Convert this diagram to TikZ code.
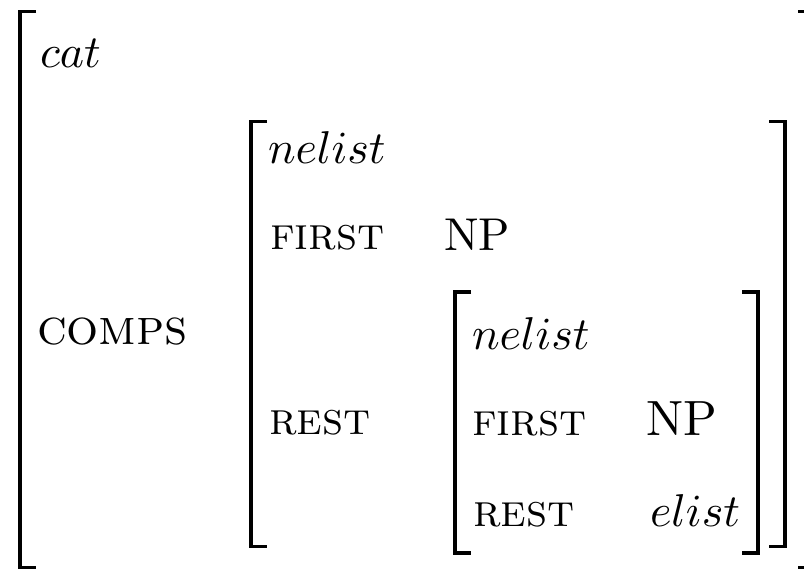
\documentclass[tikz,border=0pt]{standalone}
\usepackage{graphicx}
\newcommand{\avmtxt}[2][4.6]{\scalebox{#1}{#2}}
\begin{document}
\begin{tikzpicture}[x=1pt,y=-1pt,
  lbl/.style={anchor=base west,inner sep=0pt,outer sep=0pt,font=\normalsize},
  brk/.style={line width=3.6pt,line join=miter,line cap=butt}]
\useasboundingbox (0,0) rectangle (804,569);
% outer level
\node[lbl] (cat) at (40,68) {\avmtxt{$cat$}};
\node[lbl] (comps) at (37,345) {\avmtxt[5.05]{\textsc{comps}}};
% middle level
\node[lbl] (nel1) at (268,164) {\avmtxt{$nelist$}};
\node[lbl] (first1) at (270,250) {\avmtxt{\textsc{first}}};
\node[lbl] (np1) at (444,251) {\avmtxt{NP}};
\node[lbl] (rest1) at (269,435) {\avmtxt{\textsc{rest}}};
% inner level
\node[lbl] (nel2) at (472,350) {\avmtxt{$nelist$}};
\node[lbl] (first2) at (472,436) {\avmtxt{\textsc{first}}};
\node[lbl] (np2) at (646,436) {\avmtxt[4.95]{NP}};
\node[lbl] (rest2) at (473,526) {\avmtxt{\textsc{rest}}};
\node[lbl] (elist) at (650,526) {\avmtxt{$elist$}};
% brackets
\coordinate (oTL) at (20,11.5);
\coordinate (oBL) at (20,567.5);
\coordinate (oTR) at (808,11.5);
\coordinate (oBR) at (808,567.5);
\draw[brk] ([xshift=16pt]oTL) -- (oTL) -- (oBL) -- ([xshift=16pt]oBL);
\draw[brk] ([xshift=-10pt]oTR) -- (oTR) -- (oBR) -- ([xshift=-10pt]oBR);
\coordinate (mTL) at (251,121.5);
\coordinate (mBL) at (251,546.5);
\coordinate (mTR) at (785,121.5);
\coordinate (mBR) at (785,546.5);
\draw[brk] ([xshift=16pt]mTL) -- (mTL) -- (mBL) -- ([xshift=16pt]mBL);
\draw[brk] ([xshift=-16pt]mTR) -- (mTR) -- (mBR) -- ([xshift=-16pt]mBR);
\coordinate (iTL) at (455,292);
\coordinate (iBL) at (455,553);
\coordinate (iTR) at (758,292);
\coordinate (iBR) at (758,553);
\draw[brk] ([xshift=16pt]iTL) -- (iTL) -- (iBL) -- ([xshift=16pt]iBL);
\draw[brk] ([xshift=-16pt]iTR) -- (iTR) -- (iBR) -- ([xshift=-16pt]iBR);
\end{tikzpicture}
\end{document}
